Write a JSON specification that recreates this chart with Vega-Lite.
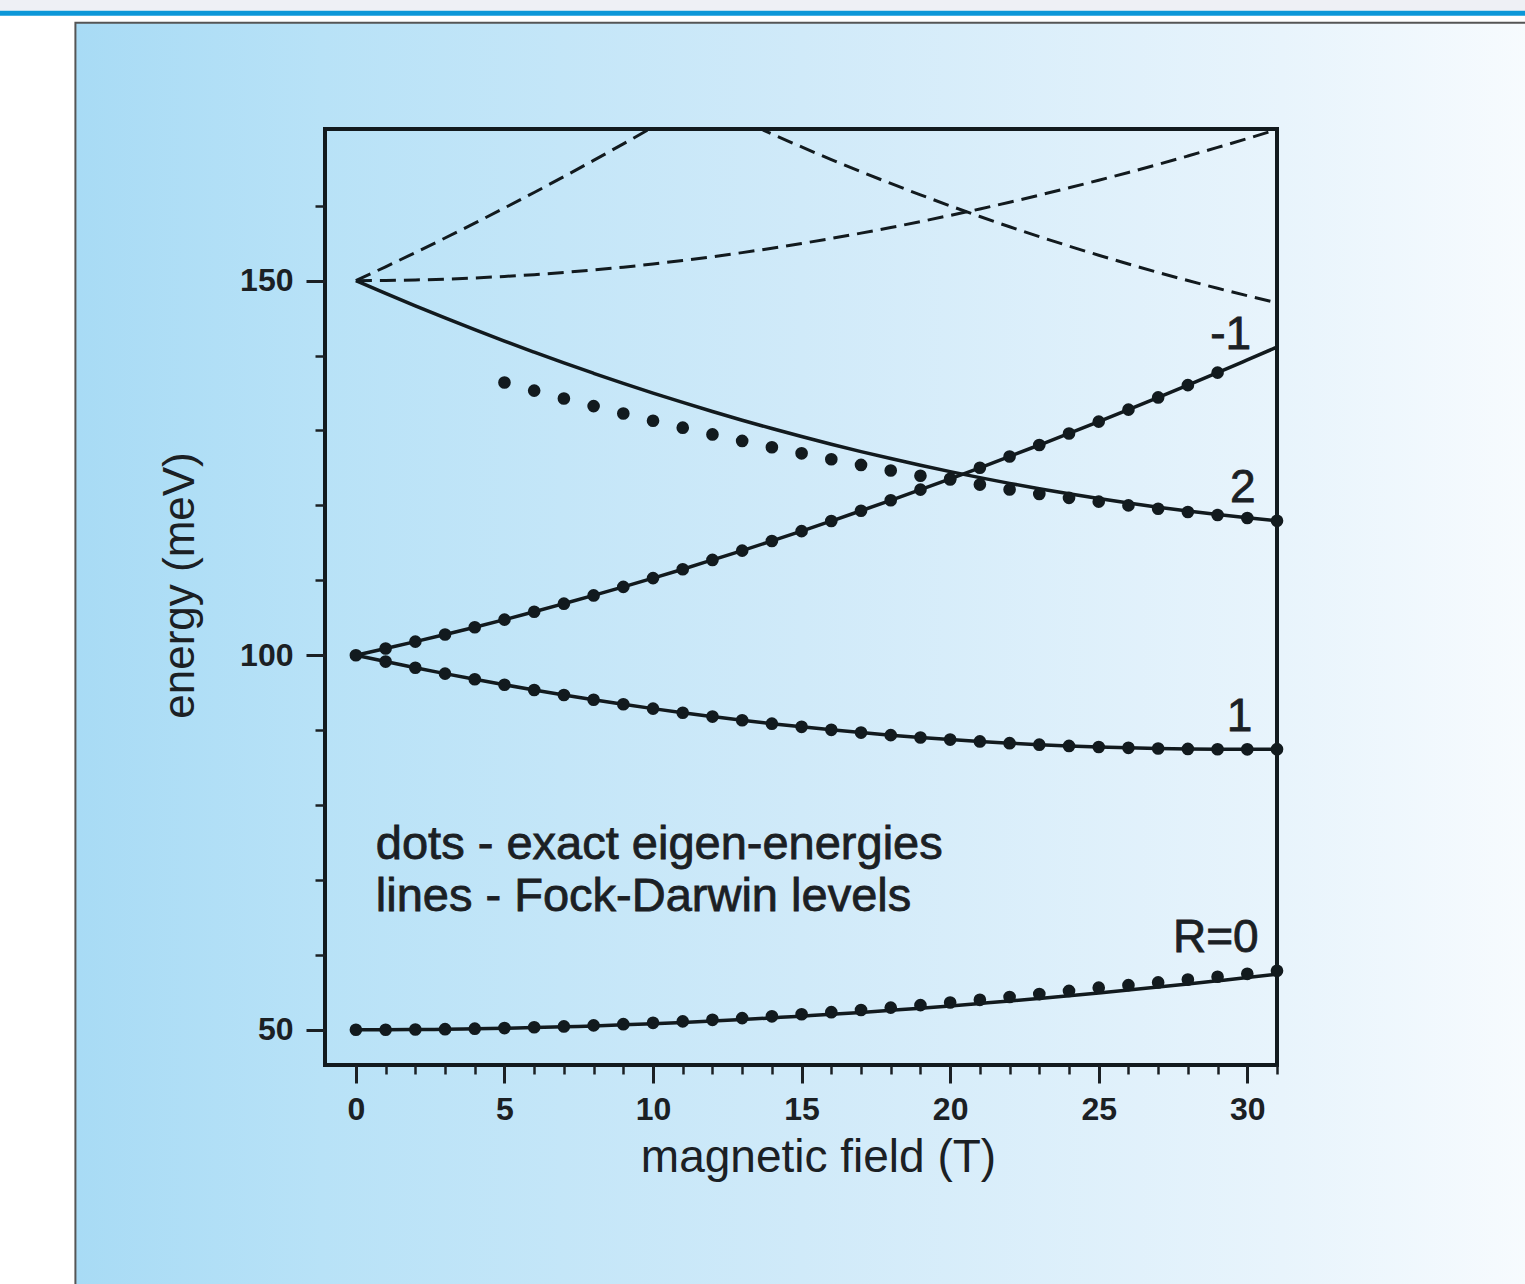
{
"$schema": "https://vega.github.io/schema/vega-lite/v6.json",
"width": 952, "height": 936,
"autosize": {"type": "none"},
"padding": {"left": 325, "top": 129, "right": 248, "bottom": 219},
"background": "#ffffff",
"config": {
  "view": {"stroke": null},
  "axis": {"domain": false, "grid": false, "labelFlush": false, "labelFont": "Liberation Sans", "labelFontSize": 32, "labelFontWeight": "bold", "labelColor": "#1b2024", "tickColor": "#1b2024", "tickWidth": 2.5, "titleFont": "Liberation Sans", "titleFontWeight": "normal", "titleColor": "#1b2024"}
},
"resolve": {"axis": {"x": "independent", "y": "independent"}},
"datasets": {
  "lines": [
    {"lvl":"L0","B":0,"E":50.00},{"lvl":"L0","B":1,"E":50.01},{"lvl":"L0","B":2,"E":50.03},{"lvl":"L0","B":3,"E":50.07},{"lvl":"L0","B":4,"E":50.13},{"lvl":"L0","B":5,"E":50.20},{"lvl":"L0","B":6,"E":50.29},{"lvl":"L0","B":7,"E":50.40},{"lvl":"L0","B":8,"E":50.52},{"lvl":"L0","B":9,"E":50.66},{"lvl":"L0","B":10,"E":50.81},{"lvl":"L0","B":11,"E":50.98},{"lvl":"L0","B":12,"E":51.17},{"lvl":"L0","B":13,"E":51.37},{"lvl":"L0","B":14,"E":51.59},{"lvl":"L0","B":15,"E":51.82},{"lvl":"L0","B":16,"E":52.06},{"lvl":"L0","B":17,"E":52.32},{"lvl":"L0","B":18,"E":52.60},{"lvl":"L0","B":19,"E":52.89},{"lvl":"L0","B":20,"E":53.19},{"lvl":"L0","B":21,"E":53.51},{"lvl":"L0","B":22,"E":53.84},{"lvl":"L0","B":23,"E":54.19},{"lvl":"L0","B":24,"E":54.55},{"lvl":"L0","B":25,"E":54.92},{"lvl":"L0","B":26,"E":55.31},{"lvl":"L0","B":27,"E":55.71},{"lvl":"L0","B":28,"E":56.12},{"lvl":"L0","B":29,"E":56.54},{"lvl":"L0","B":30,"E":56.97},{"lvl":"L0","B":31,"E":57.42},
    {"lvl":"L1","B":0,"E":100.00},{"lvl":"L1","B":1,"E":99.15},{"lvl":"L1","B":2,"E":98.33},{"lvl":"L1","B":3,"E":97.54},{"lvl":"L1","B":4,"E":96.79},{"lvl":"L1","B":5,"E":96.06},{"lvl":"L1","B":6,"E":95.36},{"lvl":"L1","B":7,"E":94.69},{"lvl":"L1","B":8,"E":94.05},{"lvl":"L1","B":9,"E":93.45},{"lvl":"L1","B":10,"E":92.87},{"lvl":"L1","B":11,"E":92.32},{"lvl":"L1","B":12,"E":91.81},{"lvl":"L1","B":13,"E":91.32},{"lvl":"L1","B":14,"E":90.86},{"lvl":"L1","B":15,"E":90.44},{"lvl":"L1","B":16,"E":90.04},{"lvl":"L1","B":17,"E":89.67},{"lvl":"L1","B":18,"E":89.33},{"lvl":"L1","B":19,"E":89.02},{"lvl":"L1","B":20,"E":88.74},{"lvl":"L1","B":21,"E":88.49},{"lvl":"L1","B":22,"E":88.26},{"lvl":"L1","B":23,"E":88.06},{"lvl":"L1","B":24,"E":87.89},{"lvl":"L1","B":25,"E":87.75},{"lvl":"L1","B":26,"E":87.64},{"lvl":"L1","B":27,"E":87.55},{"lvl":"L1","B":28,"E":87.49},{"lvl":"L1","B":29,"E":87.45},{"lvl":"L1","B":30,"E":87.44},{"lvl":"L1","B":31,"E":87.46},
    {"lvl":"Lm1","B":0,"E":100.00},{"lvl":"Lm1","B":1,"E":100.89},{"lvl":"Lm1","B":2,"E":101.81},{"lvl":"Lm1","B":3,"E":102.76},{"lvl":"Lm1","B":4,"E":103.73},{"lvl":"Lm1","B":5,"E":104.75},{"lvl":"Lm1","B":6,"E":105.80},{"lvl":"Lm1","B":7,"E":106.88},{"lvl":"Lm1","B":8,"E":107.98},{"lvl":"Lm1","B":9,"E":109.12},{"lvl":"Lm1","B":10,"E":110.29},{"lvl":"Lm1","B":11,"E":111.48},{"lvl":"Lm1","B":12,"E":112.72},{"lvl":"Lm1","B":13,"E":113.96},{"lvl":"Lm1","B":14,"E":115.25},{"lvl":"Lm1","B":15,"E":116.56},{"lvl":"Lm1","B":16,"E":117.91},{"lvl":"Lm1","B":17,"E":119.28},{"lvl":"Lm1","B":18,"E":120.68},{"lvl":"Lm1","B":19,"E":122.10},{"lvl":"Lm1","B":20,"E":123.55},{"lvl":"Lm1","B":21,"E":125.02},{"lvl":"Lm1","B":22,"E":126.53},{"lvl":"Lm1","B":23,"E":128.06},{"lvl":"Lm1","B":24,"E":129.60},{"lvl":"Lm1","B":25,"E":131.18},{"lvl":"Lm1","B":26,"E":132.78},{"lvl":"Lm1","B":27,"E":134.41},{"lvl":"Lm1","B":28,"E":136.05},{"lvl":"Lm1","B":29,"E":137.72},{"lvl":"Lm1","B":30,"E":139.42},{"lvl":"Lm1","B":31,"E":141.13},
    {"lvl":"L2","B":0,"E":150.00},{"lvl":"L2","B":1,"E":148.29},{"lvl":"L2","B":2,"E":146.63},{"lvl":"L2","B":3,"E":145.02},{"lvl":"L2","B":4,"E":143.45},{"lvl":"L2","B":5,"E":141.92},{"lvl":"L2","B":6,"E":140.45},{"lvl":"L2","B":7,"E":139.01},{"lvl":"L2","B":8,"E":137.63},{"lvl":"L2","B":9,"E":136.28},{"lvl":"L2","B":10,"E":134.99},{"lvl":"L2","B":11,"E":133.74},{"lvl":"L2","B":12,"E":132.53},{"lvl":"L2","B":13,"E":131.37},{"lvl":"L2","B":14,"E":130.26},{"lvl":"L2","B":15,"E":129.19},{"lvl":"L2","B":16,"E":128.16},{"lvl":"L2","B":17,"E":127.18},{"lvl":"L2","B":18,"E":126.25},{"lvl":"L2","B":19,"E":125.36},{"lvl":"L2","B":20,"E":124.51},{"lvl":"L2","B":21,"E":123.70},{"lvl":"L2","B":22,"E":122.94},{"lvl":"L2","B":23,"E":122.22},{"lvl":"L2","B":24,"E":121.54},{"lvl":"L2","B":25,"E":120.91},{"lvl":"L2","B":26,"E":120.31},{"lvl":"L2","B":27,"E":119.76},{"lvl":"L2","B":28,"E":119.25},{"lvl":"L2","B":29,"E":118.77},{"lvl":"L2","B":30,"E":118.34},{"lvl":"L2","B":31,"E":117.95}
  ],
  "dashed": [
    {"lvl":"D0","B":0,"E":150.00},{"lvl":"D0","B":1,"E":150.02},{"lvl":"D0","B":2,"E":150.09},{"lvl":"D0","B":3,"E":150.20},{"lvl":"D0","B":4,"E":150.36},{"lvl":"D0","B":5,"E":150.56},{"lvl":"D0","B":6,"E":150.80},{"lvl":"D0","B":7,"E":151.09},{"lvl":"D0","B":8,"E":151.43},{"lvl":"D0","B":9,"E":151.80},{"lvl":"D0","B":10,"E":152.22},{"lvl":"D0","B":11,"E":152.69},{"lvl":"D0","B":12,"E":153.19},{"lvl":"D0","B":13,"E":153.74},{"lvl":"D0","B":14,"E":154.33},{"lvl":"D0","B":15,"E":154.96},{"lvl":"D0","B":16,"E":155.63},{"lvl":"D0","B":17,"E":156.34},{"lvl":"D0","B":18,"E":157.09},{"lvl":"D0","B":19,"E":157.88},{"lvl":"D0","B":20,"E":158.71},{"lvl":"D0","B":21,"E":159.57},{"lvl":"D0","B":22,"E":160.47},{"lvl":"D0","B":23,"E":161.41},{"lvl":"D0","B":24,"E":162.39},{"lvl":"D0","B":25,"E":163.40},{"lvl":"D0","B":26,"E":164.44},{"lvl":"D0","B":27,"E":165.52},{"lvl":"D0","B":28,"E":166.64},{"lvl":"D0","B":29,"E":167.78},{"lvl":"D0","B":30,"E":168.96},{"lvl":"D0","B":31,"E":170.17},
    {"lvl":"Dm2","B":0,"E":150.00},{"lvl":"Dm2","B":1,"E":151.85},{"lvl":"Dm2","B":2,"E":153.75},{"lvl":"Dm2","B":3,"E":155.69},{"lvl":"Dm2","B":4,"E":157.67},{"lvl":"Dm2","B":5,"E":159.70},{"lvl":"Dm2","B":6,"E":161.77},{"lvl":"Dm2","B":7,"E":163.89},{"lvl":"Dm2","B":8,"E":166.05},{"lvl":"Dm2","B":9,"E":168.26},{"lvl":"Dm2","B":10,"E":170.50},{"lvl":"Dm2","B":11,"E":172.80},
    {"lvl":"D3","B":12,"E":173.23},{"lvl":"D3","B":13,"E":171.38},{"lvl":"D3","B":14,"E":169.58},{"lvl":"D3","B":15,"E":167.85},{"lvl":"D3","B":16,"E":166.16},{"lvl":"D3","B":17,"E":164.54},{"lvl":"D3","B":18,"E":162.97},{"lvl":"D3","B":19,"E":161.45},{"lvl":"D3","B":20,"E":159.98},{"lvl":"D3","B":21,"E":158.56},{"lvl":"D3","B":22,"E":157.19},{"lvl":"D3","B":23,"E":155.88},{"lvl":"D3","B":24,"E":154.61},{"lvl":"D3","B":25,"E":153.39},{"lvl":"D3","B":26,"E":152.22},{"lvl":"D3","B":27,"E":151.09},{"lvl":"D3","B":28,"E":150.01},{"lvl":"D3","B":29,"E":148.98},{"lvl":"D3","B":30,"E":147.99},{"lvl":"D3","B":31,"E":147.04}
  ],
  "dots": [
    {"br":"R0","B":0,"E":50.00},{"br":"R0","B":1,"E":50.01},{"br":"R0","B":2,"E":50.04},{"br":"R0","B":3,"E":50.08},{"br":"R0","B":4,"E":50.15},{"br":"R0","B":5,"E":50.23},{"br":"R0","B":6,"E":50.34},{"br":"R0","B":7,"E":50.45},{"br":"R0","B":8,"E":50.59},{"br":"R0","B":9,"E":50.75},{"br":"R0","B":10,"E":50.93},{"br":"R0","B":11,"E":51.12},{"br":"R0","B":12,"E":51.33},{"br":"R0","B":13,"E":51.56},{"br":"R0","B":14,"E":51.80},{"br":"R0","B":15,"E":52.07},{"br":"R0","B":16,"E":52.35},{"br":"R0","B":17,"E":52.64},{"br":"R0","B":18,"E":52.96},{"br":"R0","B":19,"E":53.29},{"br":"R0","B":20,"E":53.64},{"br":"R0","B":21,"E":54.00},{"br":"R0","B":22,"E":54.38},{"br":"R0","B":23,"E":54.77},{"br":"R0","B":24,"E":55.19},{"br":"R0","B":25,"E":55.62},{"br":"R0","B":26,"E":55.96},{"br":"R0","B":27,"E":56.32},{"br":"R0","B":28,"E":56.70},{"br":"R0","B":29,"E":57.08},{"br":"R0","B":30,"E":57.47},{"br":"R0","B":31,"E":57.87},
    {"br":"R1","B":0,"E":100.00},{"br":"R1","B":1,"E":99.15},{"br":"R1","B":2,"E":98.33},{"br":"R1","B":3,"E":97.54},{"br":"R1","B":4,"E":96.79},{"br":"R1","B":5,"E":96.06},{"br":"R1","B":6,"E":95.36},{"br":"R1","B":7,"E":94.69},{"br":"R1","B":8,"E":94.05},{"br":"R1","B":9,"E":93.45},{"br":"R1","B":10,"E":92.87},{"br":"R1","B":11,"E":92.32},{"br":"R1","B":12,"E":91.81},{"br":"R1","B":13,"E":91.32},{"br":"R1","B":14,"E":90.86},{"br":"R1","B":15,"E":90.44},{"br":"R1","B":16,"E":90.04},{"br":"R1","B":17,"E":89.67},{"br":"R1","B":18,"E":89.33},{"br":"R1","B":19,"E":89.02},{"br":"R1","B":20,"E":88.74},{"br":"R1","B":21,"E":88.49},{"br":"R1","B":22,"E":88.26},{"br":"R1","B":23,"E":88.06},{"br":"R1","B":24,"E":87.89},{"br":"R1","B":25,"E":87.75},{"br":"R1","B":26,"E":87.64},{"br":"R1","B":27,"E":87.55},{"br":"R1","B":28,"E":87.49},{"br":"R1","B":29,"E":87.45},{"br":"R1","B":30,"E":87.44},{"br":"R1","B":31,"E":87.46},
    {"br":"Rm1","B":1,"E":100.89},{"br":"Rm1","B":2,"E":101.81},{"br":"Rm1","B":3,"E":102.76},{"br":"Rm1","B":4,"E":103.73},{"br":"Rm1","B":5,"E":104.75},{"br":"Rm1","B":6,"E":105.80},{"br":"Rm1","B":7,"E":106.88},{"br":"Rm1","B":8,"E":107.98},{"br":"Rm1","B":9,"E":109.12},{"br":"Rm1","B":10,"E":110.29},{"br":"Rm1","B":11,"E":111.48},{"br":"Rm1","B":12,"E":112.72},{"br":"Rm1","B":13,"E":113.96},{"br":"Rm1","B":14,"E":115.25},{"br":"Rm1","B":15,"E":116.56},{"br":"Rm1","B":16,"E":117.91},{"br":"Rm1","B":17,"E":119.28},{"br":"Rm1","B":18,"E":120.68},{"br":"Rm1","B":19,"E":122.10},{"br":"Rm1","B":20,"E":123.55},{"br":"Rm1","B":21,"E":125.02},{"br":"Rm1","B":22,"E":126.53},{"br":"Rm1","B":23,"E":128.06},{"br":"Rm1","B":24,"E":129.60},{"br":"Rm1","B":25,"E":131.18},{"br":"Rm1","B":26,"E":132.78},{"br":"Rm1","B":27,"E":134.41},{"br":"Rm1","B":28,"E":136.05},{"br":"Rm1","B":29,"E":137.72},
    {"br":"R2","B":5,"E":136.40},{"br":"R2","B":6,"E":135.32},{"br":"R2","B":7,"E":134.27},{"br":"R2","B":8,"E":133.25},{"br":"R2","B":9,"E":132.26},{"br":"R2","B":10,"E":131.30},{"br":"R2","B":11,"E":130.37},{"br":"R2","B":12,"E":129.47},{"br":"R2","B":13,"E":128.60},{"br":"R2","B":14,"E":127.76},{"br":"R2","B":15,"E":126.95},{"br":"R2","B":16,"E":126.16},{"br":"R2","B":17,"E":125.40},{"br":"R2","B":18,"E":124.66},{"br":"R2","B":19,"E":123.95},{"br":"R2","B":20,"E":123.45},{"br":"R2","B":21,"E":122.78},{"br":"R2","B":22,"E":122.12},{"br":"R2","B":23,"E":121.52},{"br":"R2","B":24,"E":121.00},{"br":"R2","B":25,"E":120.50},{"br":"R2","B":26,"E":120.00},{"br":"R2","B":27,"E":119.55},{"br":"R2","B":28,"E":119.12},{"br":"R2","B":29,"E":118.72},{"br":"R2","B":30,"E":118.32},{"br":"R2","B":31,"E":117.95}
  ],
  "labels": [
    {"B":29.44,"E":142.78,"t":"-1"},{"B":29.85,"E":122.36,"t":"2"},{"B":29.74,"E":91.78,"t":"1"},{"B":28.94,"E":62.28,"t":"R=0"}
  ],
  "notes": [
    {"B":0.67,"E":74.70,"t":"dots - exact eigen-energies"},{"B":0.67,"E":67.76,"t":"lines - Fock-Darwin levels"}
  ]
},
"layer": [
  {
    "data": {"values": [{}]},
    "mark": {"type": "rect", "fill": {"gradient": "linear", "x1": 0, "y1": 0, "x2": 1, "y2": 0, "stops": [{"offset": 0, "color": "#a8dbf5"}, {"offset": 0.17, "color": "#b8e2f7"}, {"offset": 0.5, "color": "#d0eaf9"}, {"offset": 0.83, "color": "#e8f4fc"}, {"offset": 1, "color": "#f7fbfe"}]}, "stroke": "#555555", "strokeWidth": 2},
    "encoding": {
      "x": {"datum": -9.44, "type": "quantitative", "scale": {"domain": [-1.04, 31.0], "nice": false, "zero": false}, "axis": null},
      "x2": {"datum": 39.5},
      "y": {"datum": 184.43, "type": "quantitative", "scale": {"domain": [45.3, 170.24], "nice": false, "zero": false}, "axis": null},
      "y2": {"datum": 15.3}
    }
  },
  {
    "data": {"values": [{}]},
    "mark": {"type": "rect", "fill": "#eef0f5"},
    "encoding": {
      "x": {"datum": -12.2, "type": "quantitative", "scale": {"domain": [-1.04, 31.0], "nice": false, "zero": false}, "axis": null},
      "x2": {"datum": 39.5},
      "y": {"datum": 189.0, "type": "quantitative", "scale": {"domain": [45.3, 170.24], "nice": false, "zero": false}, "axis": null},
      "y2": {"datum": 186.03}
    }
  },
  {
    "data": {"values": [{}]},
    "mark": {"type": "rect", "fill": "#0c97d8"},
    "encoding": {
      "x": {"datum": -12.2, "type": "quantitative", "scale": {"domain": [-1.04, 31.0], "nice": false, "zero": false}, "axis": null},
      "x2": {"datum": 39.5},
      "y": {"datum": 186.03, "type": "quantitative", "scale": {"domain": [45.3, 170.24], "nice": false, "zero": false}, "axis": null},
      "y2": {"datum": 185.36}
    }
  },
  {
    "data": {"name": "lines"},
    "mark": {"type": "line", "color": "#121a1e", "strokeWidth": 3.5, "interpolate": "monotone"},
    "encoding": {
      "x": {"field": "B", "type": "quantitative", "scale": {"domain": [-1.04, 31.0], "nice": false, "zero": false},
            "axis": {"orient": "bottom", "zindex": 2, "values": [0,1,2,3,4,5,6,7,8,9,10,11,12,13,14,15,16,17,18,19,20,21,22,23,24,25,26,27,28,29,30,31], "labels": false, "tickSize": 9, "title": null}},
      "y": {"field": "E", "type": "quantitative", "scale": {"domain": [45.3, 170.24], "nice": false, "zero": false},
            "axis": {"orient": "left", "zindex": 2, "values": [60,70,80,90,110,120,130,140,160], "labels": false, "tickSize": 10, "title": null}},
      "detail": {"field": "lvl"}
    }
  },
  {
    "data": {"name": "dashed"},
    "mark": {"type": "line", "color": "#121a1e", "strokeWidth": 3, "strokeDash": [16, 8], "clip": true, "interpolate": "monotone"},
    "encoding": {
      "x": {"field": "B", "type": "quantitative", "scale": {"domain": [-1.04, 31.0], "nice": false, "zero": false}, "axis": null},
      "y": {"field": "E", "type": "quantitative", "scale": {"domain": [45.3, 170.24], "nice": false, "zero": false}, "axis": null},
      "detail": {"field": "lvl"}
    }
  },
  {
    "data": {"name": "dots"},
    "mark": {"type": "circle", "size": 160, "color": "#121a1e", "opacity": 1},
    "encoding": {
      "x": {"field": "B", "type": "quantitative", "scale": {"domain": [-1.04, 31.0], "nice": false, "zero": false},
            "axis": {"orient": "bottom", "zindex": 2, "values": [0,5,10,15,20,25,30], "tickSize": 18, "tickWidth": 3, "labelPadding": 11, "title": "magnetic field (T)", "titleFontSize": 46, "titlePadding": 10, "titleX": 493}},
      "y": {"field": "E", "type": "quantitative", "scale": {"domain": [45.3, 170.24], "nice": false, "zero": false},
            "axis": {"orient": "left", "zindex": 2, "values": [50,100,150], "tickSize": 19, "tickWidth": 3, "labelPadding": 13, "title": "energy (meV)", "titleFontSize": 44, "titlePadding": 37, "titleY": 456}}
    }
  },
  {
    "data": {"values": [{}]},
    "mark": {"type": "rect", "fill": "transparent", "stroke": "#121a1e", "strokeWidth": 4},
    "encoding": {
      "x": {"datum": -1.04, "type": "quantitative", "scale": {"domain": [-1.04, 31.0], "nice": false, "zero": false}, "axis": null},
      "x2": {"datum": 31.0},
      "y": {"datum": 45.3, "type": "quantitative", "scale": {"domain": [45.3, 170.24], "nice": false, "zero": false}, "axis": null},
      "y2": {"datum": 170.24}
    }
  },
  {
    "data": {"name": "labels"},
    "mark": {"type": "text", "font": "Liberation Sans", "fontSize": 46, "color": "#1b2024", "stroke": "#1b2024", "strokeWidth": 0.8, "align": "center", "baseline": "middle"},
    "encoding": {
      "x": {"field": "B", "type": "quantitative", "scale": {"domain": [-1.04, 31.0], "nice": false, "zero": false}, "axis": null},
      "y": {"field": "E", "type": "quantitative", "scale": {"domain": [45.3, 170.24], "nice": false, "zero": false}, "axis": null},
      "text": {"field": "t"}
    }
  },
  {
    "data": {"name": "notes"},
    "mark": {"type": "text", "font": "Liberation Sans", "fontSize": 47, "color": "#1b2024", "stroke": "#1b2024", "strokeWidth": 0.8, "align": "left", "baseline": "middle"},
    "encoding": {
      "x": {"field": "B", "type": "quantitative", "scale": {"domain": [-1.04, 31.0], "nice": false, "zero": false}, "axis": null},
      "y": {"field": "E", "type": "quantitative", "scale": {"domain": [45.3, 170.24], "nice": false, "zero": false}, "axis": null},
      "text": {"field": "t"}
    }
  }
]
}
